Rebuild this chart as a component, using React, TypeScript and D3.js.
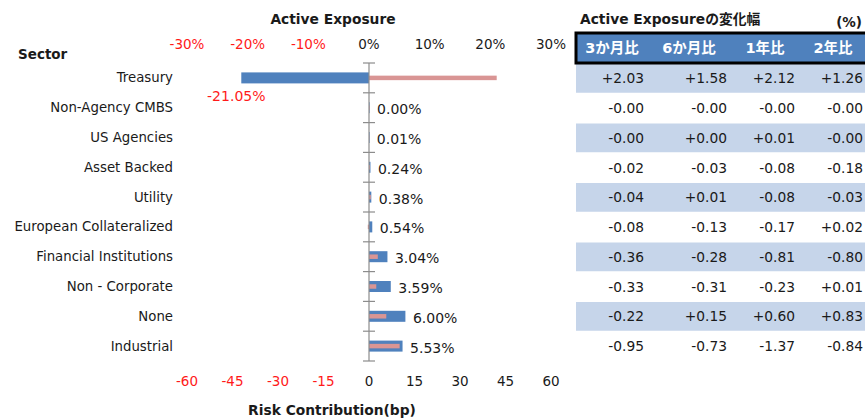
import React from "react";
import * as d3 from "d3";

const sectors = [
  "Treasury",
  "Non-Agency CMBS",
  "US Agencies",
  "Asset Backed",
  "Utility",
  "European Collateralized",
  "Financial Institutions",
  "Non - Corporate",
  "None",
  "Industrial",
];
// Active exposure (%), blue bars, top axis
const activeExposure = [-21.05, 0.0, 0.01, 0.24, 0.38, 0.54, 3.04, 3.59, 6.0, 5.53];
// Risk contribution (bp), pink bars, bottom axis
const riskContribution = [42.1, 0.2, 0.1, 0.3, 0.6, -0.4, 2.9, 2.4, 5.7, 10.1];

const pctTicks = [-30, -20, -10, 0, 10, 20, 30];
const bpTicks = [-60, -45, -30, -15, 0, 15, 30, 45, 60];

const tableHeaders = ["3か月比", "6か月比", "1年比", "2年比"];
const change3m = ["+2.03", "-0.00", "-0.00", "-0.02", "-0.04", "-0.08", "-0.36", "-0.33", "-0.22", "-0.95"];
const change6m = ["+1.58", "-0.00", "+0.00", "-0.03", "+0.01", "-0.13", "-0.28", "-0.31", "+0.15", "-0.73"];
const change1y = ["+2.12", "-0.00", "+0.01", "-0.08", "-0.08", "-0.17", "-0.81", "-0.23", "+0.60", "-1.37"];
const change2y = ["+1.26", "-0.00", "-0.00", "-0.18", "-0.03", "+0.02", "-0.80", "+0.01", "+0.83", "-0.84"];

const FONT = "'DejaVu Sans', Verdana, sans-serif";
const CJK = "'DejaVu Sans', 'Noto Sans CJK JP', sans-serif";
const TEXT = "#1a1a1a";
const RED = "#ff1a1a";
const BLUE = "#4f81bd";
const PINK = "#d99594";

export default function App() {
  const W = 865;
  const H = 419;
  const xPct = d3.scaleLinear().domain([-30, 30]).range([187, 551]);
  const xBp = d3.scaleLinear().domain([-60, 60]).range([187, 551]);
  const y = d3.scaleBand<string>().domain(sectors).range([63, 361]).padding(0);
  const bw = y.bandwidth();
  const x0 = xPct(0);
  const blueH = 11;
  const pinkH = 4.5;

  const cols = [change3m, change6m, change1y, change2y];
  const colRight = [644, 727, 795, 863];
  const colCenter = [612, 689, 765, 833];
  const rowTop = 63.5;
  const rowH = 29.75;

  return (
    <svg
      width={W}
      height={H}
      style={{ position: "absolute", left: 0, top: 0, background: "#fff" }}
      fontFamily={FONT}
    >
      {/* titles */}
      <text x={333} y={24} textAnchor="middle" fontSize={13.8} fontWeight="bold" fill={TEXT}>
        Active Exposure
      </text>
      <text x={18} y={59} fontSize={13.5} fontWeight="bold" fill={TEXT}>
        Sector
      </text>
      <text x={332} y={415} textAnchor="middle" fontSize={13.8} fontWeight="bold" fill={TEXT}>
        Risk Contribution(bp)
      </text>

      {/* top axis labels */}
      {pctTicks.map((t) => (
        <text
          key={"p" + t}
          x={xPct(t)}
          y={49}
          textAnchor="middle"
          fontSize={13.5}
          fill={t < 0 ? RED : TEXT}
        >
          {t + "%"}
        </text>
      ))}
      {/* bottom axis labels */}
      {bpTicks.map((t) => (
        <text
          key={"b" + t}
          x={xBp(t)}
          y={386}
          textAnchor="middle"
          fontSize={13.5}
          fill={t < 0 ? RED : TEXT}
        >
          {t}
        </text>
      ))}

      {/* category labels */}
      {sectors.map((s) => (
        <text
          key={s}
          x={173}
          y={(y(s) as number) + bw / 2 + 4.5}
          textAnchor="end"
          fontSize={13.3}
          fill={TEXT}
        >
          {s}
        </text>
      ))}

      {/* bars */}
      {sectors.map((s, i) => {
        const cy = (y(s) as number) + bw / 2;
        const v = activeExposure[i];
        const r = riskContribution[i];
        const bx0 = Math.min(xPct(0), xPct(v));
        const bx1 = Math.max(xPct(0), xPct(v));
        const px0 = Math.min(xBp(0), xBp(r));
        const px1 = Math.max(xBp(0), xBp(r));
        return (
          <g key={"bar" + s}>
            <rect x={bx0} y={cy - blueH / 2} width={Math.max(bx1 - bx0, 0.6)} height={blueH} fill={BLUE} />
            <rect x={px0} y={cy - pinkH / 2} width={px1 - px0} height={pinkH} fill={PINK} />
            {v < 0 ? (
              <text x={xPct(v) - 5} y={cy + 23} textAnchor="middle" fontSize={14} fill={RED}>
                {v.toFixed(2) + "%"}
              </text>
            ) : (
              <text x={Math.max(xPct(v), xBp(r)) + 7.5} y={cy + 6.5} fontSize={14} fill={TEXT}>
                {v.toFixed(2) + "%"}
              </text>
            )}
          </g>
        );
      })}

      {/* vertical axis */}
      <line x1={x0} x2={x0} y1={63} y2={361} stroke="#8c8c8c" strokeWidth={1.2} />
      {[...sectors.map((s) => y(s) as number), 361].map((ty, i) => (
        <line key={"t" + i} x1={x0 - 6} x2={x0 + 6} y1={ty} y2={ty} stroke="#8c8c8c" strokeWidth={1.2} />
      ))}

      {/* table */}
      <text x={580} y={24} fontSize={13.8} fontWeight="bold" fill={TEXT} fontFamily={CJK}>
        Active Exposureの変化幅
      </text>
      <text x={862} y={27} textAnchor="end" fontSize={13.5} fontWeight="bold" fill={TEXT}>
        (%)
      </text>
      {sectors.map((s, i) =>
        i % 2 === 0 ? (
          <rect key={"row" + i} x={576} y={rowTop + i * rowH + 0.5} width={300} height={rowH - 1} fill="#c6d5ea" />
        ) : null
      )}
      <rect x={576} y={33} width={300} height={30} fill={BLUE} stroke="#000" strokeWidth={3} />
      {tableHeaders.map((h, j) => (
        <text
          key={h}
          x={colCenter[j]}
          y={53}
          textAnchor="middle"
          fontSize={14.5}
          fontWeight="bold"
          fill="#fff"
          fontFamily={CJK}
        >
          {h}
        </text>
      ))}
      {cols.map((col, j) =>
        col.map((val, i) => (
          <text
            key={"c" + j + "-" + i}
            x={colRight[j]}
            y={rowTop + i * rowH + rowH / 2 + 5}
            textAnchor="end"
            fontSize={13.8}
            fill={TEXT}
          >
            {val}
          </text>
        ))
      )}
    </svg>
  );
}
